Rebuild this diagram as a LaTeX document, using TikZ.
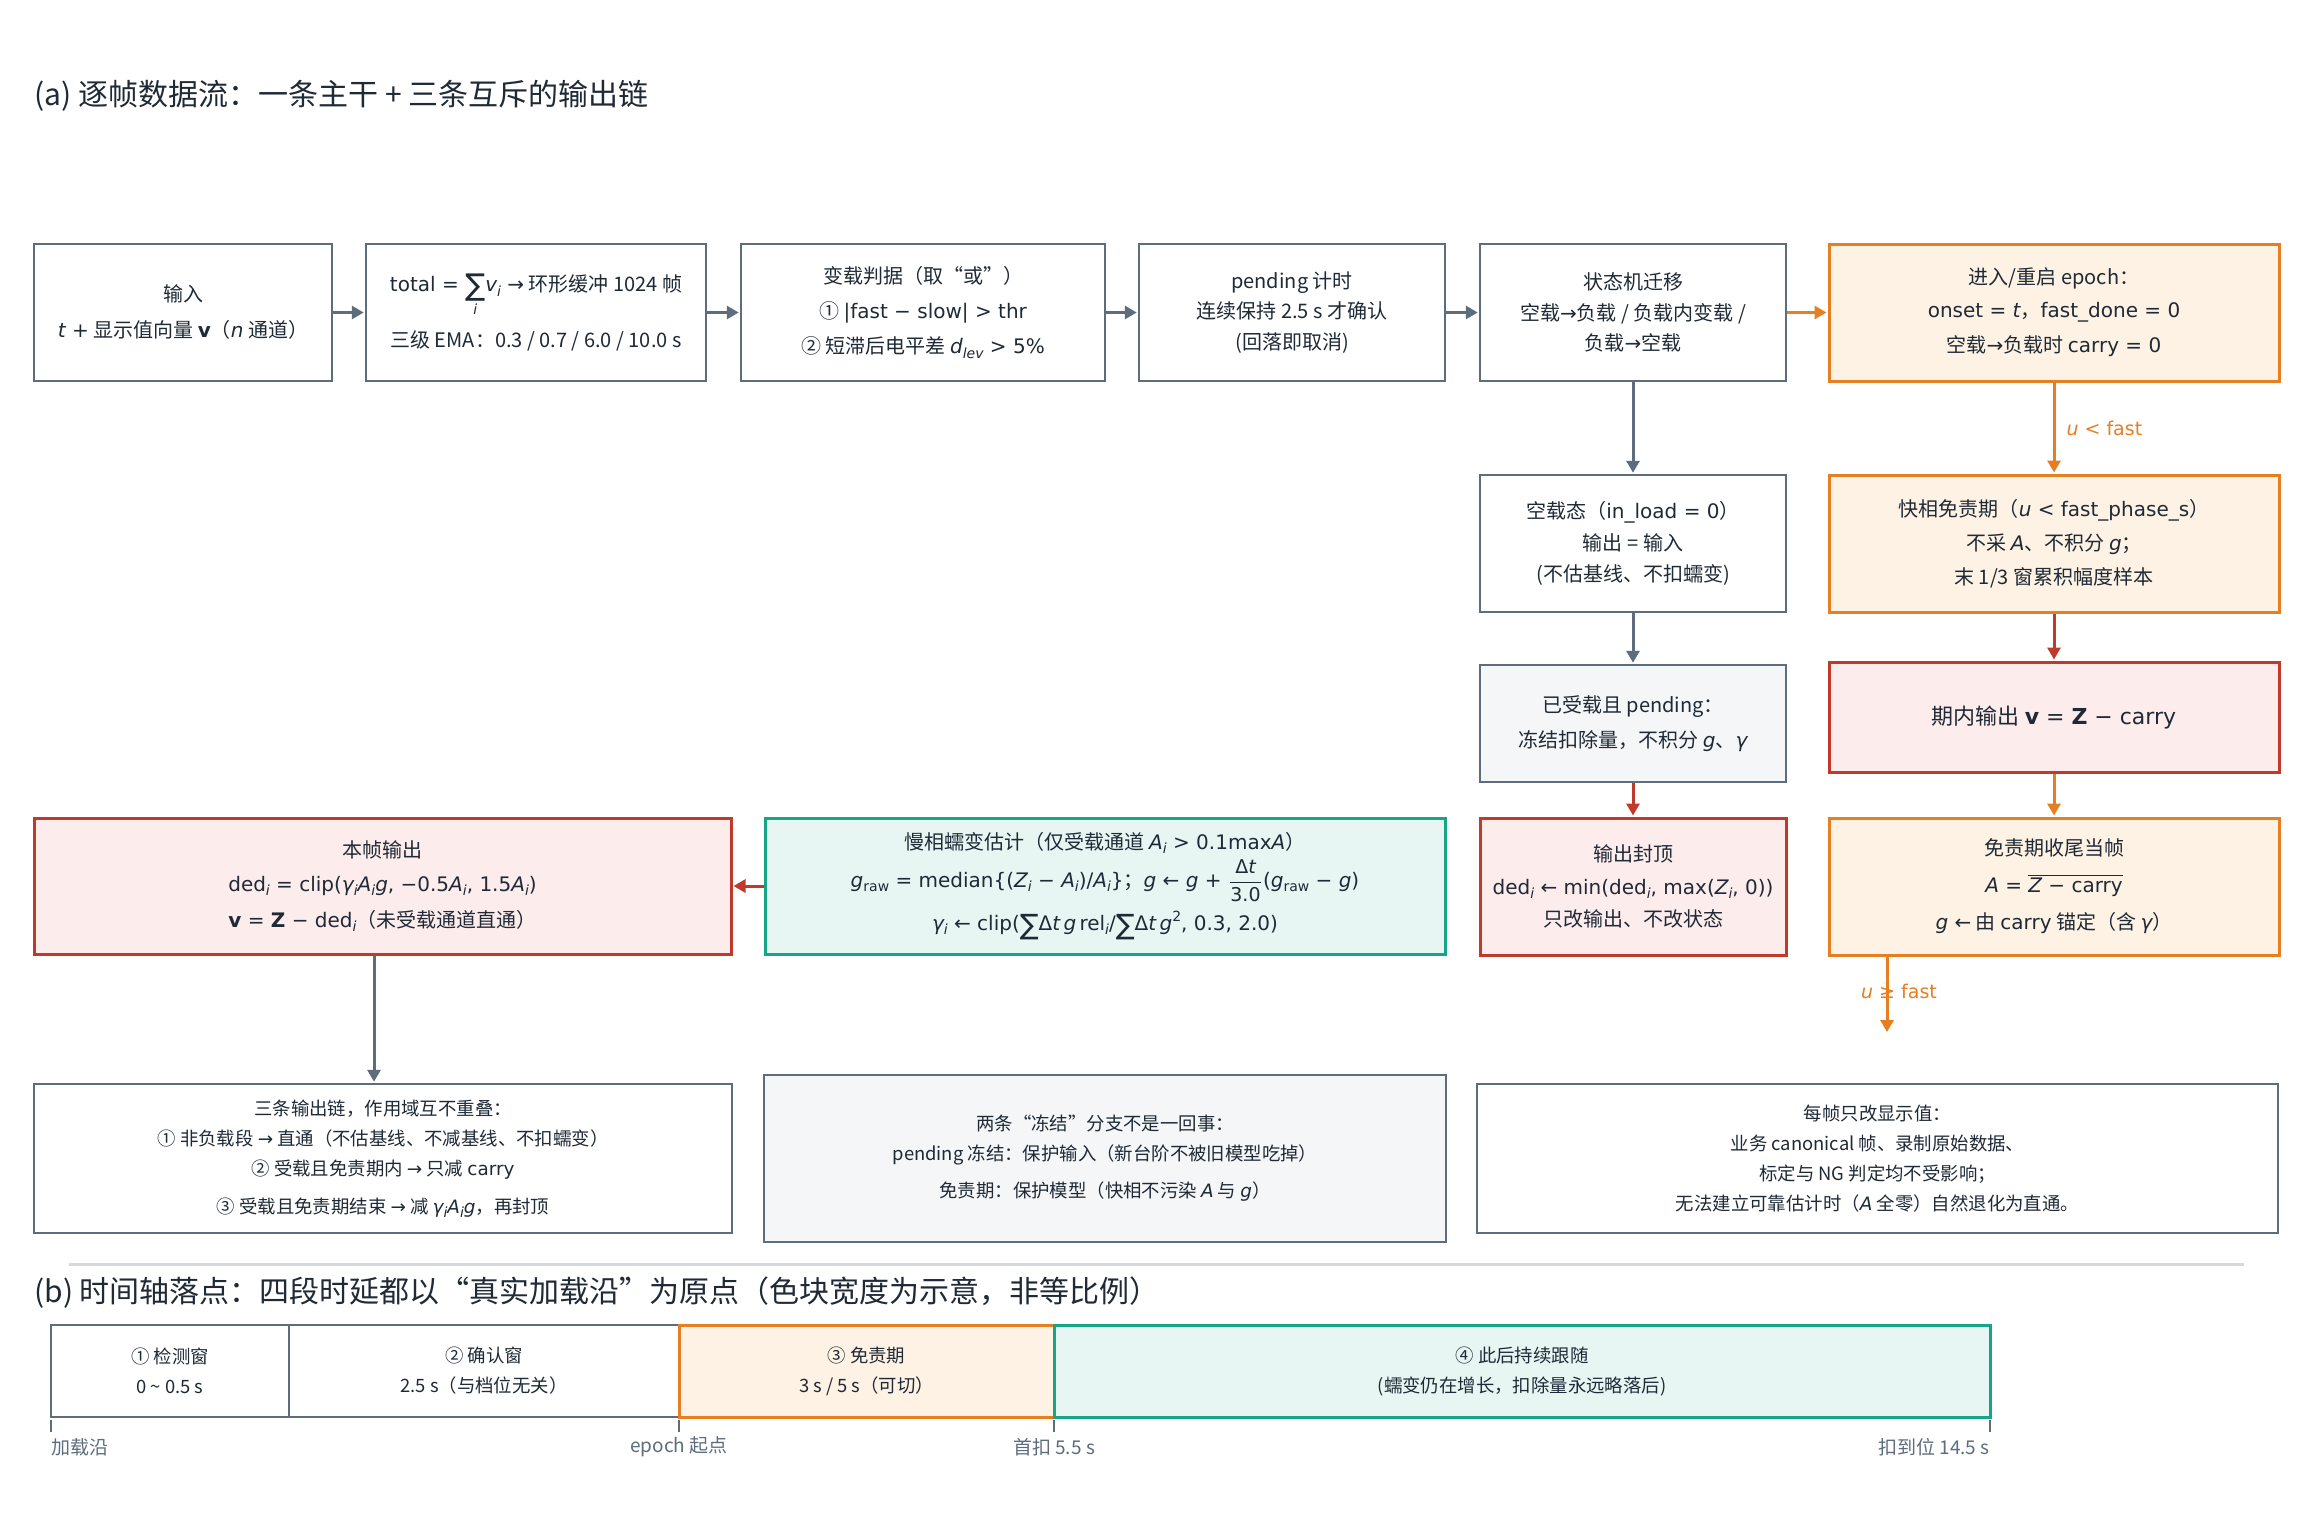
\documentclass[tikz,border=0pt]{standalone}
\usepackage{fontspec}
\usepackage{amsmath}
\setmainfont{Noto Sans CJK SC}
\newfontfamily\dvf{DejaVu Sans}
\usetikzlibrary{arrows.meta,calc}
\definecolor{cgray}{HTML}{5D6D7E}
\definecolor{corange}{HTML}{E67E22}
\definecolor{cred}{HTML}{C0392B}
\definecolor{cgreen}{HTML}{17A589}
\definecolor{forange}{HTML}{FDF2E3}
\definecolor{fred}{HTML}{FDECEC}
\definecolor{fgreen}{HTML}{E8F6F3}
\definecolor{fgray}{HTML}{F4F6F7}
\definecolor{ctext}{HTML}{1F2A36}
\definecolor{csep}{HTML}{D5D8DC}
\newcommand\iv[1]{{\dvf\itshape #1}}
\newcommand\bv[1]{{\dvf\bfseries #1}}
\newcommand\dvo[1]{{\dvf #1}}
\newcommand\sbs[1]{\raisebox{-0.4ex}{\fontsize{7}{7}\selectfont #1}}
\newcommand\sps[1]{\raisebox{0.8ex}{\fontsize{7}{7}\selectfont #1}}
\newcommand\bigsum{\raisebox{-0.35ex}{\fontsize{14}{14}\selectfont ∑}}
\newcommand\frc[2]{\ensuremath{\dfrac{\text{\dvf\fontsize{9.5}{10}\selectfont #1}}{\text{\dvf\fontsize{9.5}{10}\selectfont #2}}}}
\begin{document}
\begin{tikzpicture}[x=0.5pt,y=-0.5pt,
  box/.style={draw=cgray,line width=1.25pt,fill=white,align=center,text=ctext,inner sep=0pt,font=\fontsize{10}{16}\selectfont},
  obox/.style={box,draw=corange,fill=forange,line width=1.5pt},
  rbox/.style={box,draw=cred,fill=fred,line width=1.5pt},
  gbox/.style={box,draw=cgreen,fill=fgreen,line width=1.5pt},
  lbox/.style={box,fill=fgray},
  sbox/.style={font=\fontsize{9.2}{15}\selectfont},
  arr/.style={line width=1.5pt,-{Triangle[length=6pt,width=6.5pt]},shorten >=0.5pt},
  title/.style={anchor=west,text=ctext,inner sep=0pt,font=\fontsize{15}{18}\selectfont},
  lbl/.style={text=corange,inner sep=0pt,font=\fontsize{9.5}{11}\selectfont},
  ticklbl/.style={text=cgray,inner sep=0pt,font=\fontsize{9.5}{11}\selectfont},
  tick/.style={draw=cgray,line width=1pt}
]
\useasboundingbox (0,0) rectangle (2312,1512);
\fill[white] (0,0) rectangle (2312,1512);

% titles
\node[title] (ta) at (34,96) {(a) 逐帧数据流：一条主干 + 三条互斥的输出链};
\node[title] (tb) at (34,1293) {(b) 时间轴落点：四段时延都以“真实加载沿”为原点（色块宽度为示意，非等比例）};

% row 1
\node[box,minimum width=149pt,minimum height=68.5pt] (b1) at (183,312.5) {输入\\[2pt]{\dvf\iv{t} +} 显示值向量 \bv{v}（\iv{n} 通道）};
\node[box,minimum width=170pt,minimum height=68.5pt] (b2) at (536,312.5) {{\dvf total = $\displaystyle\mathop{\text{\raisebox{-0.3ex}{\dvf\fontsize{15}{15}\selectfont ∑}}}\limits_{\text{\iv{i}}}$\iv{v}\sbs{\iv{i}} →} 环形缓冲 1024 帧\\[6pt]三级 EMA：0.3 / 0.7 / 6.0 / 10.0 s};
\node[box,minimum width=182pt,minimum height=68.5pt] (b3) at (923,312.5) {变载判据（取“或”）\\[1.5pt]① {\dvf |fast − slow| > thr}\\[1.5pt]② 短滞后电平差 {\dvf\iv{d}\sbs{\iv{lev}} > 5\%}};
\node[box,minimum width=153pt,minimum height=68.5pt] (b4) at (1292,312.5) {pending 计时\\[-0.75pt]连续保持 2.5 s 才确认\\[-0.75pt](回落即取消)};
\node[box,minimum width=153pt,minimum height=68.5pt] (b5) at (1633,312.5) {状态机迁移\\[-0.75pt]空载\dvo{→}负载 / 负载内变载 /\\[-0.75pt]负载\dvo{→}空载};
\node[obox,minimum width=225pt,minimum height=68.5pt] (b6) at (2054,312.5) {进入/重启 epoch：\\[0.5pt]{\dvf onset = \iv{t}}，{\dvf fast\_done = 0}\\[1.5pt]空载\dvo{→}负载时 {\dvf carry = 0}};

% row 2
\node[box,minimum width=153pt,minimum height=68.5pt] (n1) at (1633,543.5) {空载态（{\dvf in\_load = 0}）\\[-0.25pt]输出 = 输入\\[-0.25pt](不估基线、不扣蠕变)};
\node[obox,minimum width=225pt,minimum height=68.5pt] (f1) at (2054,543.5) {快相免责期（{\dvf\iv{u} < fast\_phase\_s}）\\[1pt]不采 \iv{A}、不积分 \iv{g}；\\[1pt]末 1/3 窗累积幅度样本};

% row 3
\node[lbox,minimum width=153pt,minimum height=58.5pt] (p1) at (1633,723.5) {已受载且 pending：\\[1.5pt]冻结扣除量，不积分 \iv{g}、\iv{γ}};
\node[rbox,minimum width=225pt,minimum height=55pt,font=\fontsize{11}{16}\selectfont] (c1) at (2054,717) {期内输出 {\dvf\bv{v} = \bv{Z} − carry}};

% row 4
\node[rbox,minimum width=153pt,minimum height=68.5pt] (cap) at (1633,886.5) {输出封顶\\[0.5pt]{\dvf ded\sbs{\iv{i}} ← min(ded\sbs{\iv{i}}, max(\iv{Z}\sbs{\iv{i}}, 0))}\\[0pt]只改输出、不改状态};
\node[obox,minimum width=225pt,minimum height=68.5pt] (tail) at (2054,886.5) {免责期收尾当帧\\[2.5pt]{\dvf\iv{A} = $\overline{\hbox{\dvf\iv{Z} − carry}}$}\\[2.5pt]{\dvf\iv{g} ←} 由 {\dvf carry} 锚定（含 \iv{γ}）};
\node[rbox,minimum width=348.5pt,minimum height=68pt] (out) at (382.5,886) {本帧输出\\[1pt]{\dvf ded\sbs{\iv{i}} = clip(\iv{γ}\sbs{\iv{i}}\iv{A}\sbs{\iv{i}}\iv{g}, −0.5\iv{A}\sbs{\iv{i}}, 1.5\iv{A}\sbs{\iv{i}})}\\[2pt]{\dvf\bv{v} = \bv{Z} − ded\sbs{\iv{i}}}（未受载通道直通）};
\node[gbox,minimum width=340pt,minimum height=68pt] (slow) at (1105,886) {慢相蠕变估计（仅受载通道 {\dvf\iv{A}\sbs{\iv{i}} > 0.1max\iv{A}}）\\[3pt]{\dvf\iv{g}\sbs{raw} = median\{(\iv{Z}\sbs{\iv{i}} − \iv{A}\sbs{\iv{i}})/\iv{A}\sbs{\iv{i}}\}}；{\dvf\iv{g} ← \iv{g} + \frc{Δ\iv{t}}{3.0}(\iv{g}\sbs{raw} − \iv{g})}\\[4pt]{\dvf\iv{γ}\sbs{\iv{i}} ← clip(\bigsum Δ\iv{t}\,\iv{g}\,rel\sbs{\iv{i}}/\bigsum Δ\iv{t}\,\iv{g}\sps{2}, 0.3, 2.0)}};

% bottom notes
\node[box,sbox,minimum width=349pt,minimum height=74.5pt] (chains) at (383,1158.5) {三条输出链，作用域互不重叠：\\① 非负载段 \dvo{→} 直通（不估基线、不减基线、不扣蠕变）\\② 受载且免责期内 \dvo{→} 只减 {\dvf carry}\\[4pt]③ 受载且免责期结束 \dvo{→} 减 {\dvf\iv{γ}\sbs{\iv{i}}\iv{A}\sbs{\iv{i}}\iv{g}}，再封顶};
\node[lbox,sbox,minimum width=341pt,minimum height=83.5pt] (freeze) at (1105,1158.5) {两条“冻结”分支不是一回事：\\pending 冻结：保护输入（新台阶不被旧模型吃掉）\\[3.5pt]免责期：保护模型（快相不污染 \iv{A} 与 \iv{g}）};
\node[box,sbox,minimum width=400.5pt,minimum height=74.5pt] (note) at (1877.5,1158.5) {每帧只改显示值：\\业务 canonical 帧、录制原始数据、\\标定与 NG 判定均不受影响；\\无法建立可靠估计时（\iv{A} 全零）自然退化为直通。};

% arrows
\draw[arr,cgray] (b1.east) -- (b2.west);
\draw[arr,cgray] (b2.east) -- (b3.west);
\draw[arr,cgray] (b3.east) -- (b4.west);
\draw[arr,cgray] (b4.east) -- (b5.west);
\draw[arr,corange] (b5.east) -- (b6.west);
\draw[arr,cgray] (b5.south) -- (n1.north);
\draw[arr,corange] (b6.south) -- (f1.north) node[lbl,midway,anchor=west,xshift=5.5pt] (ul) {{\dvf\iv{u} < fast}};
\draw[arr,cgray] (n1.south) -- (p1.north);
\draw[arr,cred] (f1.south) -- (c1.north);
\draw[arr,cred] (p1.south) -- (cap.north);
\draw[arr,corange] (c1.south) -- (tail.north);
\coordinate (uf) at (1887,1033);
\draw[arr,corange] (tail.south -| uf) -- (uf);
\node[lbl] (ugl) at (1899,991) {{\dvf\iv{u} ≥ fast}};
\draw[arr,cred] (slow.west) -- (out.east);
\coordinate (oc) at (374,1000);
\draw[arr,cgray] (out.south -| oc) -- (chains.north -| oc);

% separator
\coordinate (s1) at (69,1264);
\coordinate (s2) at (2244,1264);
\draw[csep,line width=1.5pt] (s1) -- (s2);

% timeline
\node[box,sbox,minimum width=119pt,minimum height=46pt] (t1) at (170,1371) {① 检测窗\\0 \textasciitilde{} 0.5 s};
\node[box,sbox,minimum width=195pt,minimum height=46pt] (t2) at (484,1371) {② 确认窗\\2.5 s（与档位无关）};
\node[obox,sbox,minimum width=187.5pt,minimum height=46pt] (t3) at (866.5,1371) {③ 免责期\\3 s / 5 s（可切）};
\node[gbox,sbox,minimum width=468pt,minimum height=46pt] (t4) at (1522,1371) {④ 此后持续跟随\\(蠕变仍在增长，扣除量永远略落后)};

\coordinate (k1) at (51,1420);
\coordinate (k2) at (679,1420);
\coordinate (k3) at (1054,1420);
\coordinate (k4) at (1990,1420);
\draw[tick] (k1) -- ++(0,12);
\draw[tick] (k2) -- ++(0,12);
\draw[tick] (k3) -- ++(0,12);
\draw[tick] (k4) -- ++(0,12);
\node[ticklbl,anchor=west] (l1) at (51,1447) {加载沿};
\node[ticklbl] (l2) at (679,1447) {epoch 起点};
\node[ticklbl] (l3) at (1054,1447) {首扣 5.5 s};
\node[ticklbl,anchor=east] (l4) at (1990,1447) {扣到位 14.5 s};
\end{tikzpicture}
\end{document}
